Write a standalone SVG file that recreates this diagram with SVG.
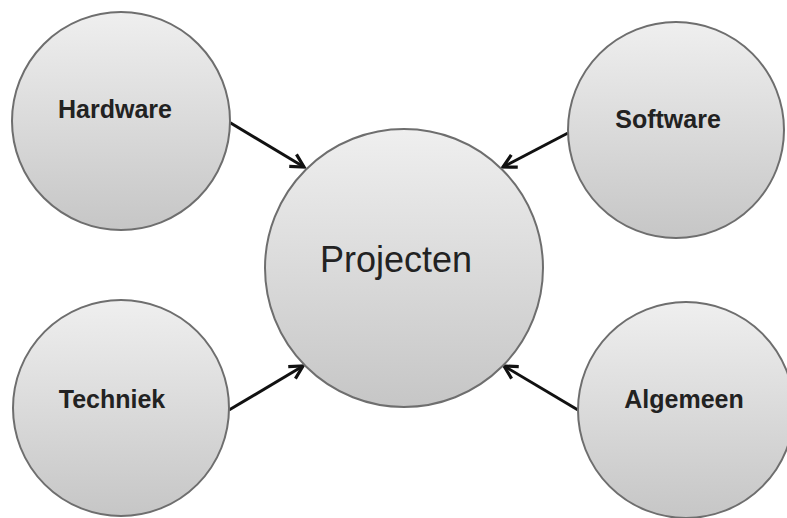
<svg xmlns="http://www.w3.org/2000/svg" width="787" height="518" viewBox="0 0 787 518">
  <style>
    .node { fill: url(#g); stroke: #6e6e6e; stroke-width: 2; }
    .lbl { font-family: "Liberation Sans", Arial, sans-serif; font-weight: bold; font-size: 25px; fill: #222; text-anchor: middle; }
    .big { font-family: "Liberation Sans", Arial, sans-serif; font-size: 36px; fill: #222; text-anchor: middle; }
    .conn { stroke: #111; stroke-width: 3; fill: none; marker-end: url(#ah); }
  </style>
  <defs>
    <linearGradient id="g" x1="0" y1="0" x2="0" y2="1">
      <stop offset="0" stop-color="#efefef"/>
      <stop offset="1" stop-color="#c6c6c6"/>
    </linearGradient>
    <marker id="ah" markerUnits="userSpaceOnUse" viewBox="-16 -10 20 20" refX="0" refY="0" markerWidth="20" markerHeight="20" orient="auto">
      <path d="M-13,-7 L0,0 L-13,7" stroke="#111" stroke-width="3.2" fill="none" stroke-linejoin="miter"/>
    </marker>
  </defs>
  <rect width="787" height="518" fill="#fff"/>
  <g id="connectors">
    <line class="conn" x1="229" y1="122" x2="304" y2="167"/>
    <line class="conn" x1="568" y1="133" x2="503" y2="167"/>
    <line class="conn" x1="229" y1="410" x2="303" y2="366"/>
    <line class="conn" x1="578" y1="410" x2="504" y2="366"/>
  </g>
  <g id="projecten">
    <circle class="node" cx="404" cy="268" r="139"/>
    <text class="big" x="396" y="272">Projecten</text>
  </g>
  <g id="hardware">
    <circle class="node" cx="121" cy="121" r="109"/>
    <text class="lbl" x="115" y="118">Hardware</text>
  </g>
  <g id="software">
    <circle class="node" cx="676" cy="130" r="108"/>
    <text class="lbl" x="668" y="128">Software</text>
  </g>
  <g id="techniek">
    <circle class="node" cx="121" cy="408" r="108"/>
    <text class="lbl" x="112" y="408">Techniek</text>
  </g>
  <g id="algemeen">
    <circle class="node" cx="686" cy="410" r="108"/>
    <text class="lbl" x="684" y="408">Algemeen</text>
  </g>
</svg>
